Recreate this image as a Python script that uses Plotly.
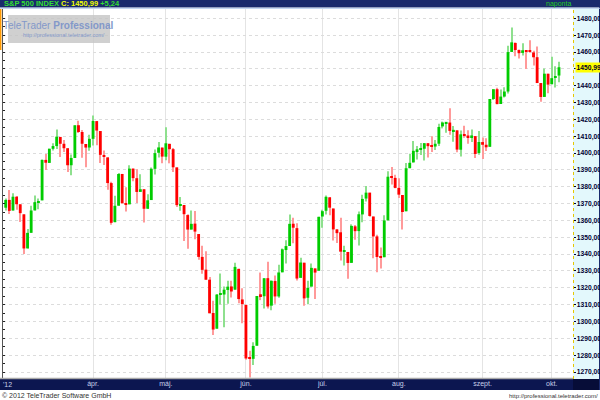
import plotly.graph_objects as go
import pandas as pd

# ---------------- data ----------------
holidays = ["2012-04-06", "2012-05-28", "2012-07-04", "2012-09-03"]
dates = [d for d in pd.bdate_range("2012-02-28", "2012-10-03")
         if d.strftime("%Y-%m-%d") not in holidays]

opens = [
    1367.56, 1372.20,
    1365.90, 1374.09, 1369.59, 1363.63, 1343.39, 1352.65, 1365.97, 1370.78, 1371.92, 1395.95, 1394.17,
    1402.55, 1404.17, 1409.59, 1405.52, 1402.89, 1392.78, 1397.11, 1416.55, 1412.52, 1405.39, 1403.31,
    1408.47, 1418.98, 1413.09, 1398.79, 1397.45, 1382.18, 1358.98, 1368.77, 1387.61, 1370.27, 1369.57,
    1390.78, 1385.08, 1376.96, 1378.53, 1366.97, 1372.11, 1390.64, 1400.19, 1403.26,
    1397.86, 1405.50, 1402.32, 1391.51, 1368.79, 1369.16, 1363.20, 1354.58, 1358.11, 1351.93, 1338.36,
    1330.78, 1324.82, 1305.05, 1295.73, 1316.09, 1316.02, 1318.72, 1320.81, 1318.90, 1331.25, 1313.09,
    1309.87, 1278.29, 1277.82, 1285.61, 1316.15, 1314.99, 1325.72, 1309.40, 1324.02, 1314.88, 1329.19,
    1342.42, 1344.83, 1358.04, 1355.43, 1325.92, 1334.90, 1314.09, 1320.71, 1331.52, 1330.12,
    1362.33, 1365.75, 1373.72, 1367.09, 1354.66, 1352.96, 1341.40, 1341.29, 1334.81, 1356.50, 1353.68,
    1363.58, 1373.01, 1376.51, 1362.34, 1350.52, 1338.35, 1338.17, 1360.05, 1385.94, 1385.27,
    1379.32, 1375.13, 1365.45, 1391.04, 1394.46, 1401.23, 1402.26, 1402.58, 1405.87, 1404.36, 1403.89,
    1405.57, 1415.84, 1417.85, 1418.13, 1413.09, 1413.49, 1401.99, 1411.13, 1410.44, 1409.32, 1410.08,
    1400.07,
    1406.54, 1404.94, 1403.74, 1432.12, 1437.92, 1429.13, 1433.56, 1436.56, 1460.07, 1465.42, 1461.19,
    1459.50, 1461.05, 1460.34, 1459.76, 1456.94, 1441.60, 1433.36, 1447.13,
    1440.90, 1444.99, 1446.05,
]
highs = [
    1373.09, 1378.04,
    1376.17, 1374.53, 1369.59, 1363.63, 1354.85, 1368.72, 1374.76, 1373.04, 1396.13, 1399.42, 1402.63,
    1405.88, 1414.00, 1409.59, 1407.75, 1402.89, 1399.18, 1416.58, 1419.15, 1413.65, 1405.39, 1410.89,
    1422.38, 1419.00, 1413.09, 1401.60, 1397.45, 1383.01, 1374.71, 1388.13, 1387.61, 1379.66, 1392.76,
    1390.78, 1390.46, 1387.40, 1378.53, 1375.57, 1391.37, 1402.09, 1406.64, 1403.26,
    1415.32, 1405.50, 1403.07, 1391.51, 1373.91, 1369.16, 1363.73, 1365.88, 1365.66, 1351.93, 1344.94,
    1341.78, 1326.36, 1312.24, 1316.39, 1328.49, 1320.71, 1324.14, 1324.20, 1334.93, 1331.25, 1319.74,
    1309.87, 1282.55, 1287.62, 1315.13, 1329.05, 1325.81, 1335.52, 1324.31, 1327.28, 1333.68, 1343.32,
    1348.22, 1363.46, 1361.57, 1358.27, 1337.82, 1334.90, 1324.24, 1334.40, 1331.52, 1362.17,
    1366.35, 1374.81, 1373.85, 1367.09, 1354.87, 1361.54, 1345.00, 1341.29, 1357.70, 1357.26, 1365.36,
    1375.26, 1380.39, 1376.51, 1362.34, 1351.53, 1343.98, 1363.13, 1389.19, 1391.74, 1387.16,
    1385.03, 1375.13, 1394.16, 1399.63, 1407.14, 1404.14, 1405.95, 1405.98, 1405.87, 1410.03, 1407.73,
    1417.44, 1418.71, 1418.13, 1426.68, 1416.12, 1413.49, 1413.46, 1416.17, 1413.63, 1413.95, 1410.08,
    1413.09,
    1409.31, 1408.81, 1432.12, 1437.92, 1438.74, 1437.76, 1439.15, 1463.76, 1474.51, 1465.63, 1461.47,
    1465.15, 1461.23, 1467.07, 1460.72, 1463.24, 1441.60, 1450.20, 1447.13,
    1457.14, 1451.52, 1454.30,
]
lows = [
    1365.97, 1363.81,
    1365.90, 1366.42, 1359.13, 1340.03, 1343.39, 1352.65, 1365.97, 1366.69, 1371.92, 1389.97, 1394.17,
    1401.47, 1402.43, 1397.68, 1400.64, 1388.73, 1386.87, 1397.11, 1411.95, 1397.20, 1391.56, 1401.42,
    1404.46, 1404.62, 1394.09, 1392.92, 1378.24, 1357.38, 1358.98, 1368.77, 1369.85, 1365.38, 1369.57,
    1383.29, 1370.30, 1376.96, 1358.79, 1366.82, 1372.11, 1387.28, 1397.31, 1394.00,
    1395.73, 1393.92, 1388.71, 1367.96, 1365.76, 1347.75, 1343.13, 1354.58, 1348.89, 1336.61, 1328.41,
    1324.79, 1304.86, 1291.98, 1295.73, 1310.04, 1296.53, 1310.50, 1314.23, 1318.90, 1310.76, 1298.90,
    1277.25, 1266.74, 1274.16, 1285.61, 1312.68, 1307.77, 1307.73, 1306.62, 1310.51, 1314.14, 1329.19,
    1334.46, 1344.83, 1346.45, 1324.41, 1325.92, 1309.27, 1310.30, 1320.71, 1313.29, 1330.12,
    1355.70, 1363.53, 1363.02, 1348.03, 1346.65, 1336.27, 1333.25, 1325.41, 1334.81, 1348.51, 1345.07,
    1358.96, 1371.21, 1362.19, 1337.56, 1329.24, 1331.50, 1338.17, 1360.05, 1381.37, 1379.17,
    1373.35, 1354.65, 1365.45, 1391.04, 1394.46, 1396.13, 1398.80, 1395.62, 1397.32, 1400.60, 1401.83,
    1404.15, 1414.67, 1412.12, 1410.86, 1406.78, 1400.50, 1398.04, 1409.11, 1405.59, 1406.57, 1397.01,
    1398.96,
    1396.56, 1401.25, 1403.74, 1431.45, 1428.98, 1429.13, 1432.99, 1435.34, 1460.07, 1457.55, 1456.13,
    1457.88, 1449.98, 1459.51, 1452.06, 1441.59, 1430.53, 1433.36, 1435.60,
    1440.90, 1439.01, 1441.99,
]
closes = [
    1372.18, 1365.68,
    1374.09, 1369.63, 1364.33, 1343.36, 1352.63, 1365.91, 1370.87, 1371.09, 1395.95, 1394.28, 1402.60,
    1404.17, 1409.75, 1405.52, 1402.89, 1392.78, 1397.11, 1416.51, 1412.52, 1405.54, 1403.28, 1408.47,
    1419.04, 1413.38, 1398.96, 1398.08, 1382.20, 1358.59, 1368.71, 1387.57, 1370.26, 1369.57, 1390.78,
    1385.14, 1376.92, 1378.53, 1366.94, 1371.97, 1390.69, 1399.98, 1403.36, 1397.91,
    1405.82, 1402.31, 1391.57, 1369.10, 1369.58, 1363.72, 1354.58, 1357.99, 1353.39, 1338.35, 1330.66,
    1324.80, 1304.86, 1295.22, 1315.99, 1316.63, 1318.86, 1320.68, 1317.82, 1332.42, 1313.32, 1310.33,
    1278.04, 1278.18, 1285.50, 1315.13, 1314.99, 1325.66, 1308.93, 1324.18, 1314.88, 1329.10, 1342.84,
    1344.78, 1357.98, 1355.69, 1325.51, 1335.02, 1313.72, 1319.99, 1331.85, 1329.04, 1362.16,
    1365.51, 1374.02, 1367.58, 1354.68, 1352.46, 1341.47, 1341.45, 1334.76, 1356.78, 1353.64, 1363.67,
    1372.78, 1376.51, 1362.66, 1350.52, 1338.31, 1337.89, 1360.02, 1385.97, 1385.30, 1379.32,
    1375.32, 1365.00, 1390.99, 1394.23, 1401.35, 1402.22, 1402.80, 1405.87, 1404.11, 1403.93, 1405.53,
    1415.51, 1418.16, 1418.13, 1413.17, 1413.49, 1402.08, 1411.13, 1410.44, 1409.30, 1410.49, 1399.48,
    1406.58,
    1404.94, 1403.44, 1432.12, 1437.92, 1429.08, 1433.56, 1436.56, 1459.99, 1465.77, 1461.19, 1459.32,
    1461.05, 1460.26, 1460.15, 1456.89, 1441.59, 1433.32, 1447.15, 1440.67,
    1444.49, 1445.75, 1450.99,
]

month_starts = ["2012-04-02", "2012-05-01", "2012-06-01", "2012-07-02",
                "2012-08-01", "2012-09-04", "2012-10-01"]
month_labels = ["ápr.", "máj.", "jún.", "júl.", "aug.", "szept.", "okt."]

price_ticks = list(range(1270, 1490, 10))
last_close = 1450.99
last_change = 5.24

assert len(dates) == len(opens) == len(highs) == len(lows) == len(closes)

# ---------------- derived ----------------
idx = list(range(len(dates)))
date_str = [d.strftime("%Y-%m-%d") for d in dates]
tick_idx = [date_str.index(m) for m in month_starts]

UP, DOWN = "#00cc00", "#ff0000"
UP_W, DOWN_W = "#8ee08e", "#ff9a9a"

body_base = [min(o, c) for o, c in zip(opens, closes)]
body_h = [max(abs(c - o), 0.7) for o, c in zip(opens, closes)]
body_col = [UP if c >= o else DOWN for o, c in zip(opens, closes)]
wick_col = [UP_W if c >= o else DOWN_W for o, c in zip(opens, closes)]
wick_h = [h - l for h, l in zip(highs, lows)]

def fmt(v):
    return f"{v:.2f}".replace(".", ",")

tick_text = ["" if v == 1450 else fmt(v) for v in price_ticks]

def px(x):
    return x / 600.0

def py(y):
    return 1 - y / 400.0

fig = go.Figure()
fig.add_trace(go.Bar(x=idx, y=wick_h, base=lows, width=0.28,
                     marker=dict(color=wick_col, line=dict(width=0)),
                     hoverinfo="skip"))
fig.add_trace(go.Bar(x=idx, y=body_h, base=body_base, width=0.78,
                     marker=dict(color=body_col, line=dict(width=0)),
                     hoverinfo="skip"))
# left helper axis for the edge tick marks
fig.add_trace(go.Scatter(x=[idx[0]], y=[closes[0]], yaxis="y2", mode="markers",
                         marker=dict(opacity=0), hoverinfo="skip"))

x_left, x_right = -0.74, 155.85
y_lo, y_hi = 1266.44, 1485.56

shapes = [
    # y-axis background
    dict(type="rect", xref="paper", yref="paper", x0=px(573), x1=px(600), y0=py(379), y1=py(9),
         fillcolor="#e3f8fc", line=dict(width=0), layer="below"),
    # bottom navy bar
    dict(type="rect", xref="paper", yref="paper", x0=0, x1=1, y0=py(390), y1=py(379),
         fillcolor="#0c1650", line=dict(width=0), layer="below"),
    dict(type="rect", xref="paper", yref="paper", x0=px(573), x1=1, y0=py(390), y1=py(379),
         fillcolor="#070d38", line=dict(width=0), layer="below"),
    # grey strip
    dict(type="line", xref="paper", yref="paper", x0=0, x1=px(573), y0=py(378.5), y1=py(378.5),
         line=dict(color="#a8a8a8", width=1.5)),
    # yellow dotted axis line
    dict(type="line", xref="paper", yref="paper", x0=px(573.5), x1=px(573.5), y0=py(379), y1=py(9),
         line=dict(color="#e6c800", width=1, dash="dot")),
    # right border
    dict(type="line", xref="paper", yref="paper", x0=px(599.5), x1=px(599.5), y0=py(390), y1=1,
         line=dict(color="#1a2a6c", width=1), layer="below"),
    # header bar
    dict(type="rect", xref="paper", yref="paper", x0=0, x1=1, y0=py(7.5), y1=1,
         fillcolor="#1a2a6c", line=dict(width=0)),
    dict(type="line", xref="paper", yref="paper", x0=0, x1=1, y0=py(8.3), y1=py(8.3),
         line=dict(color="#b4cced", width=1)),
    # orange marker on left
    dict(type="line", xref="paper", yref="paper", x0=px(0.7), x1=px(0.7), y0=py(50), y1=py(9),
         line=dict(color="#ff9900", width=1.5)),
    # logo box
    dict(type="rect", xref="paper", yref="paper", x0=px(8), x1=px(110), y0=py(43), y1=py(15),
         fillcolor="rgba(196,196,196,0.8)", line=dict(width=0)),
]

annotations = [
    dict(xref="paper", yref="paper", x=px(2), y=py(3.8), xanchor="left", yanchor="middle",
         showarrow=False,
         text=("<b><span style='color:#33dd33'>S&amp;P 500 INDEX</span> "
               f"<span style='color:#f0ff00'>C: {fmt(last_close)}</span> "
               f"<span style='color:#33dd33'>+{fmt(last_change)}</span></b>"),
         font=dict(family="Liberation Sans", size=7.5)),
    dict(xref="paper", yref="paper", x=px(558), y=py(3.8), xanchor="center", yanchor="middle",
         showarrow=False, text="naponta",
         font=dict(family="Liberation Sans", size=7, color="#22cc22")),
    dict(xref="paper", yref="paper", x=px(58), y=py(25), xanchor="center", yanchor="middle",
         showarrow=False, text="TeleTrader <b>Professional</b>",
         font=dict(family="Liberation Sans Narrow, Liberation Sans", size=10, color="#8398c9")),
    dict(xref="paper", yref="paper", x=px(64), y=py(35), xanchor="center", yanchor="middle",
         showarrow=False, text="http://professional.teletrader.com/",
         font=dict(family="Liberation Sans", size=5.5, color="#8398c9")),
    dict(xref="paper", yref="y", x=px(574.5), y=last_close, xanchor="left", yanchor="middle",
         showarrow=False, text=f"<b>{fmt(last_close)}</b>", bgcolor="#ffff00", borderpad=0.5,
         font=dict(family="Liberation Sans", size=6.7, color="#000022")),
    dict(xref="paper", yref="paper", x=px(1), y=py(384.5), xanchor="left", yanchor="middle",
         showarrow=False, text="'12",
         font=dict(family="Liberation Sans", size=7, color="#c8d0ea")),
    dict(xref="paper", yref="paper", x=0, y=py(395.5), xanchor="left", yanchor="middle",
         showarrow=False, text="© 2012 TeleTrader Software GmbH",
         font=dict(family="Liberation Sans", size=7, color="#333333")),
    dict(xref="paper", yref="paper", x=1, y=py(395.5), xanchor="right", yanchor="middle",
         showarrow=False, text="http://professional.teletrader.com/",
         font=dict(family="Liberation Sans", size=6, color="#333333")),
]

fig.update_layout(
    width=600, height=400,
    margin=dict(l=0, r=0, t=0, b=0, autoexpand=False),
    paper_bgcolor="white", plot_bgcolor="white",
    showlegend=False, barmode="overlay", hovermode=False,
    xaxis=dict(domain=[px(3), px(573)], range=[x_left, x_right], automargin=False,
               tickmode="array", tickvals=tick_idx, ticktext=month_labels,
               showgrid=True, gridcolor="#e4e4e4", gridwidth=1,
               ticks="", showline=False, zeroline=False,
               tickfont=dict(family="Liberation Sans", size=7, color="#c8d0ea")),
    yaxis=dict(domain=[py(378), py(9)], range=[y_lo, y_hi], side="right", automargin=False,
               tickmode="array", tickvals=price_ticks, ticktext=tick_text,
               showgrid=True, gridcolor="#dcdcdc", griddash="dot", gridwidth=1,
               ticks="outside", ticklen=1.5, tickcolor="#000033",
               zeroline=False, showline=False,
               tickfont=dict(family="Liberation Sans", size=6.7, color="#000033", weight="bold")),
    yaxis2=dict(overlaying="y", side="left", range=[y_lo, y_hi], anchor="x", automargin=False,
                showticklabels=False, showgrid=False, zeroline=False,
                ticks="inside", ticklen=2, dtick=5, tick0=1270, tickcolor="#222222",
                showline=True, linecolor="#555555", linewidth=1),
    shapes=shapes, annotations=annotations,
)

fig.write_html("out.html", config={"displayModeBar": False},
               post_script="document.body.style.margin='0';document.body.style.overflow='hidden';")
